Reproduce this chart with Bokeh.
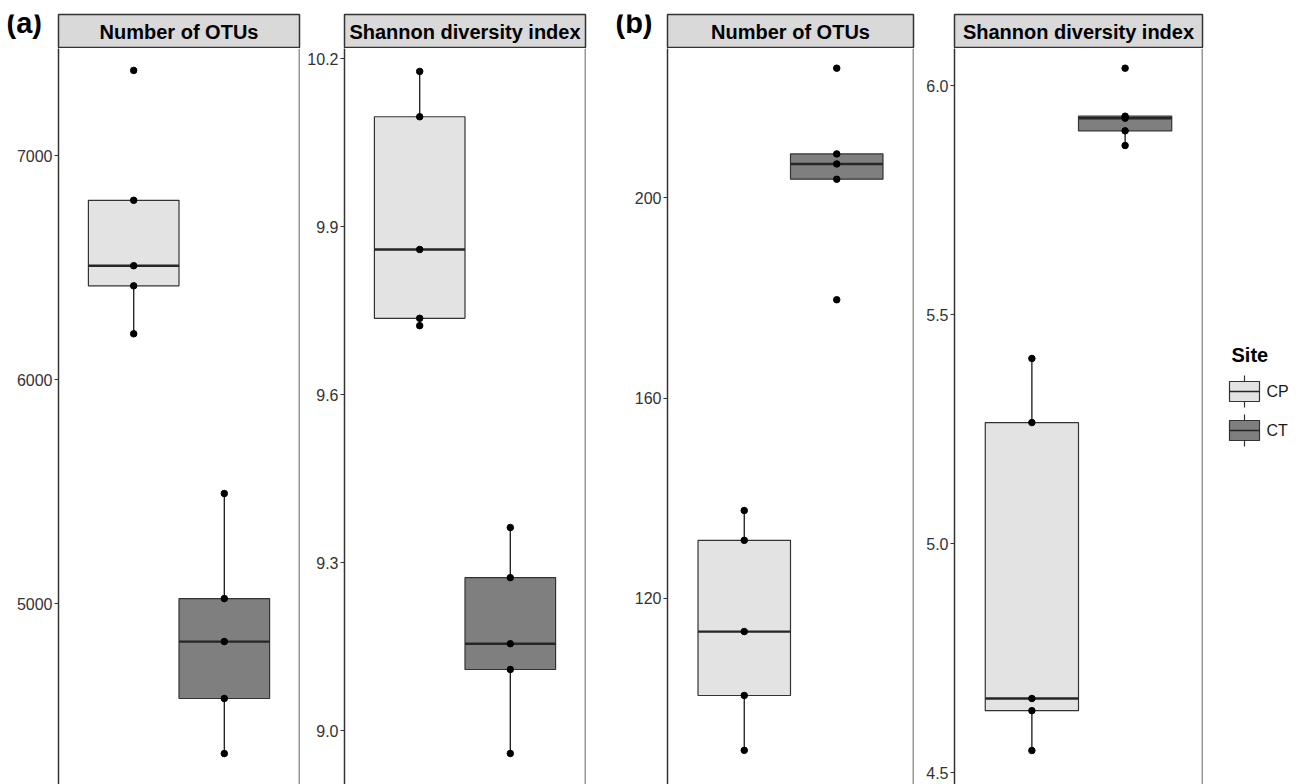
import numpy as np
from bokeh.plotting import figure
from bokeh.models import Range1d, FixedTicker, Span, Spacer
from bokeh.layouts import row, column
from bokeh.core.properties import value
from bokeh.embed import file_html
from bokeh.resources import INLINE

# ---------------- data ----------------
sites = ["CP", "CT"]
site_colors = ["#e3e3e3", "#7f7f7f"]

a_otus_cp = [7380, 6800, 6508, 6418, 6204]
a_otus_ct = [5491, 5022, 4830, 4576, 4330]
a_shannon_cp = [10.177, 10.096, 9.859, 9.736, 9.723]
a_shannon_ct = [9.3625, 9.273, 9.155, 9.109, 8.959]
b_otus_cp = [137.55, 131.6, 113.4, 100.65, 89.7]
b_otus_ct = [225.8, 208.7, 206.7, 203.65, 179.6]
b_shannon_cp = [5.404, 5.264, 4.6616, 4.635, 4.548]
b_shannon_ct = [6.0378, 5.933, 5.9286, 5.901, 5.869]

a_otus_ticks = [5000, 6000, 7000]
a_otus_labels = ["5000", "6000", "7000"]
a_shannon_ticks = [9.0, 9.3, 9.6, 9.9, 10.2]
a_shannon_labels = ["9.0", "9.3", "9.6", "9.9", "10.2"]
b_otus_ticks = [120, 160, 200]
b_otus_labels = ["120", "160", "200"]
b_shannon_ticks = [4.5, 5.0, 5.5, 6.0]
b_shannon_labels = ["4.5", "5.0", "5.5", "6.0"]

strip_titles = ["Number of OTUs", "Shannon diversity index",
                "Number of OTUs", "Shannon diversity index"]
panel_tags = ["(a)", None, "(b)", None]

FONT = "Liberation Sans"
BORDER = "#333333"
STRIP_H = 48
MAIN_H = 736
XR = 1.33


def box_stats(vals):
    v = np.sort(np.asarray(vals, dtype=float))
    q1, med, q3 = np.percentile(v, [25, 50, 75])
    iqr = q3 - q1
    lo_f, hi_f = q1 - 1.5 * iqr, q3 + 1.5 * iqr
    inside = v[(v >= lo_f) & (v <= hi_f)]
    return q1, med, q3, inside.min(), inside.max()


def main_panel(cp, ct, yr, ticks, labels, left, frame_w):
    p = figure(width=left + frame_w + 2, height=MAIN_H,
               x_range=Range1d(-XR, XR), y_range=Range1d(*yr),
               output_backend="svg", toolbar_location=None,
               x_axis_location=None, y_axis_location="left",
               min_border_left=left, min_border_right=2,
               min_border_top=0, min_border_bottom=0)
    p.grid.visible = False
    p.outline_line_color = None
    p.background_fill_color = "white"
    p.border_fill_color = "white"
    ax = p.yaxis[0]
    ax.ticker = FixedTicker(ticks=ticks)
    ax.major_label_overrides = {t: l for t, l in zip(ticks, labels)}
    ax.axis_line_color = BORDER
    ax.axis_line_width = 1.5
    ax.major_tick_line_color = BORDER
    ax.major_tick_line_width = 1
    ax.major_tick_out = 4
    ax.major_tick_in = 0
    ax.minor_tick_line_color = None
    ax.major_label_standoff = 2
    ax.major_label_text_font = FONT
    ax.major_label_text_font_size = "16px"
    ax.major_label_text_color = "#333333"
    p.add_layout(Span(location=XR, dimension="height",
                      line_color=BORDER, line_width=1.5))
    for xc, vals, col in zip([-0.5, 0.5], [cp, ct], site_colors):
        q1, med, q3, wlo, whi = box_stats(vals)
        p.segment(x0=[xc, xc], x1=[xc, xc], y0=[q3, q1], y1=[whi, wlo],
                  line_color="#1a1a1a", line_width=1.3)
        p.quad(left=[xc - 0.5], right=[xc + 0.5], bottom=[q1], top=[q3],
               fill_color=col, line_color=BORDER, line_width=1.2)
        p.segment(x0=[xc - 0.5], x1=[xc + 0.5], y0=[med], y1=[med],
                  line_color="#262626", line_width=2.4)
        p.scatter(x=[xc] * len(vals), y=vals, size=6.5,
                  fill_color="black", line_color="black")
    return p


def strip_panel(title, frame_w):
    s = figure(width=1 + frame_w + 2, height=STRIP_H,
               x_range=Range1d(0, 1), y_range=Range1d(0, 1),
               output_backend="svg", toolbar_location=None,
               x_axis_location=None, y_axis_location=None,
               min_border_left=1, min_border_right=2,
               min_border_top=14, min_border_bottom=1)
    s.grid.visible = False
    s.background_fill_color = "#d9d9d9"
    s.border_fill_color = "white"
    s.outline_line_color = BORDER
    s.outline_line_width = 1.5
    s.text(x=[0.5], y=[0.47], text=[title], text_align="center",
           text_baseline="middle", text_font=value(FONT),
           text_font_size="20px", text_font_style="bold", text_color="black")
    return s


def tag_panel(tag, w, x0):
    if tag is None:
        return Spacer(width=w, height=STRIP_H)
    t = figure(width=w, height=STRIP_H, x_range=Range1d(0, w),
               y_range=Range1d(STRIP_H, 0), output_backend="svg",
               toolbar_location=None, x_axis_location=None,
               y_axis_location=None, min_border_left=0, min_border_right=0,
               min_border_top=0, min_border_bottom=0, title=None)
    t.grid.visible = False
    t.outline_line_color = None
    t.background_fill_color = "white"
    t.border_fill_color = "white"
    t.text(x=[x0], y=[12], text=[tag], text_align="left",
           text_baseline="middle", text_font=value(FONT),
           text_font_size="29px", text_font_style="bold", text_color="black")
    return t


panels = [
    (a_otus_cp, a_otus_ct, (4192.0, 7477.7), a_otus_ticks, a_otus_labels, 58, 241, 6),
    (a_shannon_cp, a_shannon_ct, (8.9036, 10.2179), a_shannon_ticks, a_shannon_labels, 43, 241, 0),
    (b_otus_cp, b_otus_ct, (82.89, 229.73), b_otus_ticks, b_otus_labels, 80, 246, 28),
    (b_shannon_cp, b_shannon_ct, (4.4738, 6.0808), b_shannon_ticks, b_shannon_labels, 39, 248, 0),
]

cols = []
for i, (cp, ct, yr, ticks, labels, left, fw, tagx) in enumerate(panels):
    m = main_panel(cp, ct, yr, ticks, labels, left, fw)
    s = strip_panel(strip_titles[i], fw)
    t = tag_panel(panel_tags[i], left - 1, tagx)
    cols.append(column(row(t, s, spacing=0), m, spacing=0))

# ---------------- legend ----------------
LW = 99
LH = STRIP_H + MAIN_H
lg = figure(width=LW, height=LH, x_range=Range1d(0, LW), y_range=Range1d(LH, 0),
            output_backend="svg", toolbar_location=None,
            x_axis_location=None, y_axis_location=None,
            min_border_left=0, min_border_right=0,
            min_border_top=0, min_border_bottom=0, title=None)
lg.grid.visible = False
lg.outline_line_color = None
lg.background_fill_color = "white"
lg.border_fill_color = "white"
lg.text(x=[27], y=[354], text=["Site"], text_align="left",
        text_baseline="middle", text_font=value(FONT),
        text_font_size="20px", text_font_style="bold", text_color="black")
key_tops = [381, 420]
for k, (name, col) in enumerate(zip(sites, site_colors)):
    top = key_tops[k]
    bot = top + 20
    mid = top + 10
    lg.segment(x0=[40, 40], x1=[40, 40], y0=[top - 6, bot], y1=[top, bot + 6],
               line_color=BORDER, line_width=1.2)
    lg.quad(left=[25], right=[55], top=[top], bottom=[bot], fill_color=col,
            line_color=BORDER, line_width=1.2)
    lg.segment(x0=[25], x1=[55], y0=[mid], y1=[mid], line_color="#262626",
               line_width=1.6)
    lg.text(x=[62], y=[mid], text=[name], text_align="left",
            text_baseline="middle", text_font=value(FONT),
            text_font_size="16px", text_color="#1a1a1a")

layout = row(*cols, lg, spacing=0)
open("out.html", "w").write(file_html(layout, INLINE))
